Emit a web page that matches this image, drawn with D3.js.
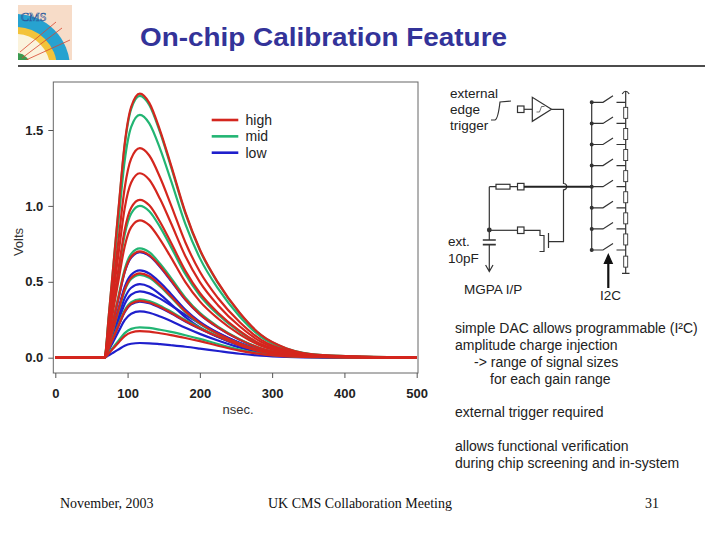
<!DOCTYPE html>
<html>
<head>
<meta charset="utf-8">
<script src="https://cdn.jsdelivr.net/npm/d3@7"></script>
<style>
  body { margin: 0; background: #fff; }
  svg  { display: block; font-family: "Liberation Sans", Arial, sans-serif; }
</style>
</head>
<body>
<svg id="slide" width="720" height="540"></svg>
<script>
"use strict";

// sample times of the pulses (nsec.)
const nsec = [0, 68, 74, 80, 88, 96, 105, 117, 130, 145, 160, 180, 200, 225, 255, 285, 320, 370, 500];

// pulse traces (Volts), one row per injected amplitude
const highTraces = [
  [0, 0, 0.278, 0.592, 1.009, 1.409, 1.653, 1.740, 1.679, 1.496, 1.270, 0.957, 0.713, 0.496, 0.296, 0.148, 0.061, 0.017, 0],
  [0, 0, 0.221, 0.469, 0.800, 1.118, 1.311, 1.380, 1.332, 1.187, 1.007, 0.759, 0.566, 0.393, 0.235, 0.117, 0.048, 0.014, 0],
  [0, 0, 0.194, 0.413, 0.705, 0.984, 1.154, 1.215, 1.172, 1.045, 0.887, 0.668, 0.498, 0.346, 0.207, 0.103, 0.043, 0.012, 0],
  [0, 0, 0.166, 0.354, 0.603, 0.842, 0.988, 1.040, 1.004, 0.894, 0.759, 0.572, 0.426, 0.296, 0.177, 0.088, 0.036, 0.010, 0],
  [0, 0, 0.145, 0.308, 0.525, 0.733, 0.860, 0.905, 0.873, 0.778, 0.661, 0.498, 0.371, 0.258, 0.154, 0.077, 0.032, 0.009, 0],
  [0, 0, 0.112, 0.238, 0.406, 0.567, 0.665, 0.700, 0.676, 0.602, 0.511, 0.385, 0.287, 0.200, 0.119, 0.060, 0.025, 0.007, 0],
  [0, 0, 0.089, 0.189, 0.322, 0.450, 0.527, 0.555, 0.536, 0.477, 0.405, 0.305, 0.228, 0.158, 0.094, 0.047, 0.019, 0.006, 0],
  [0, 0, 0.060, 0.128, 0.218, 0.304, 0.356, 0.375, 0.364, 0.334, 0.296, 0.242, 0.193, 0.139, 0.083, 0.039, 0.016, 0.005, 0],
  [0, 0, 0.028, 0.060, 0.102, 0.142, 0.166, 0.175, 0.172, 0.161, 0.149, 0.130, 0.109, 0.079, 0.047, 0.023, 0.009, 0.003, 0],
];
const midTraces = [
  [0, 0, 0.276, 0.587, 1.001, 1.397, 1.639, 1.725, 1.665, 1.484, 1.259, 0.949, 0.707, 0.492, 0.293, 0.147, 0.060, 0.017, 0],
  [0, 0, 0.256, 0.544, 0.928, 1.296, 1.520, 1.600, 1.544, 1.376, 1.168, 0.880, 0.656, 0.456, 0.272, 0.136, 0.056, 0.016, 0],
  [0, 0, 0.160, 0.340, 0.580, 0.810, 0.950, 1.000, 0.965, 0.860, 0.730, 0.550, 0.410, 0.285, 0.170, 0.085, 0.035, 0.010, 0],
  [0, 0, 0.115, 0.245, 0.418, 0.583, 0.684, 0.720, 0.695, 0.619, 0.526, 0.396, 0.295, 0.205, 0.122, 0.061, 0.025, 0.007, 0],
  [0, 0, 0.087, 0.185, 0.316, 0.441, 0.518, 0.545, 0.526, 0.469, 0.398, 0.300, 0.223, 0.155, 0.093, 0.046, 0.019, 0.005, 0],
  [0, 0, 0.062, 0.131, 0.223, 0.312, 0.366, 0.385, 0.373, 0.343, 0.304, 0.248, 0.198, 0.142, 0.085, 0.040, 0.016, 0.005, 0],
  [0, 0, 0.032, 0.068, 0.116, 0.162, 0.190, 0.200, 0.196, 0.184, 0.170, 0.148, 0.124, 0.090, 0.054, 0.026, 0.010, 0.003, 0],
];
const lowTraces = [
  [0, 0, 0.111, 0.236, 0.403, 0.563, 0.660, 0.695, 0.671, 0.598, 0.507, 0.382, 0.285, 0.198, 0.118, 0.059, 0.024, 0.007, 0],
  [0, 0, 0.092, 0.196, 0.334, 0.466, 0.546, 0.575, 0.555, 0.495, 0.420, 0.316, 0.236, 0.164, 0.098, 0.049, 0.020, 0.006, 0],
  [0, 0, 0.078, 0.165, 0.281, 0.393, 0.461, 0.485, 0.468, 0.417, 0.354, 0.267, 0.199, 0.138, 0.082, 0.041, 0.017, 0.005, 0],
  [0, 0, 0.070, 0.149, 0.253, 0.354, 0.415, 0.437, 0.424, 0.389, 0.345, 0.282, 0.225, 0.162, 0.096, 0.046, 0.018, 0.005, 0],
  [0, 0, 0.059, 0.126, 0.215, 0.300, 0.352, 0.370, 0.359, 0.329, 0.292, 0.239, 0.191, 0.137, 0.081, 0.039, 0.016, 0.004, 0],
  [0, 0, 0.049, 0.104, 0.177, 0.247, 0.290, 0.305, 0.296, 0.271, 0.241, 0.197, 0.157, 0.113, 0.067, 0.032, 0.013, 0.004, 0],
  [0, 0, 0.016, 0.033, 0.056, 0.079, 0.092, 0.097, 0.095, 0.089, 0.082, 0.072, 0.060, 0.044, 0.026, 0.013, 0.005, 0.001, 0],
];

// axis ticks and labels
const xTicks = [0, 100, 200, 300, 400, 500];
const yTicks = [0, 0.5, 1.0, 1.5];
const gains  = ['high', 'mid', 'low'];

// slide texts
const title  = 'On-chip Calibration Feature';
const notes  = [
  'simple DAC allows programmable (I\u00b2C)',
  'amplitude charge injection',
  '-> range of signal sizes',
  'for each gain range',
  'external trigger required',
  'allows functional verification',
  'during chip screening and in-system',
];
const footer = ['November, 2003', 'UK CMS Collaboration Meeting', '31'];

const svg = d3.select('#slide');

/* ---------------- header ---------------- */

// crude CMS logo
const defs = svg.append('defs');
defs.append('clipPath').attr('id', 'logoClip')
    .append('rect').attr('x', 18).attr('y', 5).attr('width', 54).attr('height', 55);

const logo = svg.append('g').attr('clip-path', 'url(#logoClip)');
logo.append('rect').attr('x', 18).attr('y', 5).attr('width', 54).attr('height', 55).attr('fill', '#f7dcc8');
[ [54, '#27a2d0'], [41, '#f3c33a'], [34, '#fbf3dc'], [15, '#3b9a4f'] ]
  .forEach( ([r, c]) => logo.append('circle').attr('cx', 16).attr('cy', 68).attr('r', r).attr('fill', c) );
[ [22, 58, 62, 28], [26, 60, 70, 40], [20, 52, 56, 22] ]
  .forEach( ([a, b, c, d]) => logo.append('line')
    .attr('x1', a).attr('y1', b).attr('x2', c).attr('y2', d)
    .attr('stroke', '#d8452e').attr('stroke-width', 0.8) );
logo.append('text')
    .attr('x', 21).attr('y', 21)
    .style('font', '12px "Liberation Serif", serif')
    .style('fill', 'none').style('stroke', '#2b5a9c').style('stroke-width', 0.6)
    .text('CMS');

svg.append('text')
    .attr('x', 323.5).attr('y', 46)
    .attr('text-anchor', 'middle')
    .attr('textLength', 367).attr('lengthAdjust', 'spacingAndGlyphs')
    .style('font-size', '26px').style('font-weight', 'bold').style('fill', '#333399')
    .text(title);

svg.append('line')
    .attr('x1', 18).attr('x2', 705).attr('y1', 66).attr('y2', 66)
    .attr('stroke', '#111').attr('stroke-width', 1.3);

/* ---------------- scope plot ---------------- */

const x = d3.scaleLinear().domain([0, 500]).range([55.3, 416.7]);
const y = d3.scaleLinear().domain([0, 1.5]).range([357.7, 130]);

// frame of the plot area
svg.append('rect')
    .attr('x', 53.3).attr('y', 82).attr('width', 364.7).attr('height', 291)
    .attr('fill', 'none').attr('stroke', '#666').attr('stroke-width', 1);

const tickStyle = sel => {
  sel.select('.domain').remove();
  sel.selectAll('line').attr('stroke', '#555');
  sel.selectAll('text')
     .attr('fill', '#222')
     .style('font', 'bold 13px "Liberation Sans", Arial, sans-serif');
};

svg.append('g')
    .attr('transform', 'translate(53.3,0)')
    .call( d3.axisLeft(y).tickValues(yTicks).tickFormat(d3.format('.1f')).tickSize(5).tickPadding(5) )
    .call(tickStyle);

svg.append('g')
    .attr('transform', 'translate(0,373)')
    .call( d3.axisBottom(x).tickValues(xTicks).tickFormat(d3.format('d')).tickSize(5).tickPadding(11) )
    .call(tickStyle);

svg.append('text')
    .attr('x', 238).attr('y', 414)
    .attr('text-anchor', 'middle')
    .style('font-size', '13px').style('fill', '#333')
    .text('nsec.');

svg.append('text')
    .attr('transform', 'translate(23,242) rotate(-90)')
    .attr('text-anchor', 'middle')
    .style('font-size', '13px').style('fill', '#333')
    .text('Volts');

// pulses
const colors = { high: '#d4261e', mid: '#22b573', low: '#1f1fcc' };
const pulse  = d3.line()
                 .x( (d, i) => x(nsec[i]) )
                 .y( d => y(d) )
                 .curve(d3.curveMonotoneX);

// blue first, red on top, as in the scope picture
[ ['low', lowTraces], ['mid', midTraces], ['high', highTraces] ].forEach( ([gain, traces]) => {
  svg.append('g')
       .attr('class', 'traces ' + gain)
     .selectAll('path')
       .data(traces)
     .enter().append('path')
       .attr('d', pulse)
       .attr('fill', 'none')
       .attr('stroke', colors[gain])
       .attr('stroke-width', 2.2)
       .attr('stroke-linejoin', 'round');
});

// legend
const legendY = d3.scalePoint().domain(gains).range([120, 152.7]);
const legend  = svg.append('g').attr('class', 'legend')
                  .selectAll('g')
                    .data(gains)
                  .enter().append('g')
                    .attr('transform', d => `translate(0,${legendY(d)})`);
legend.append('line')
      .attr('x1', 211.7).attr('x2', 238.3)
      .attr('stroke', d => colors[d]).attr('stroke-width', 2.6);
legend.append('text')
      .attr('x', 245.5).attr('dy', '0.36em')
      .style('font-size', '14px').style('fill', '#222')
      .text(d => d);

/* ---------------- calibration circuit ---------------- */

const circ = svg.append('g')
                .attr('class', 'circuit')
                .attr('fill', 'none').attr('stroke', '#333').attr('stroke-width', 1.2);

const label = (t, px, py) => svg.append('text')
    .attr('x', px).attr('y', py)
    .style('font-size', '13.5px').style('fill', '#222')
    .text(t);

label('external', 450, 98);
label('edge', 450, 114);
label('trigger', 450, 130);
label('ext.', 448, 246);
label('10pF', 448, 263);
label('MGPA I/P', 464, 294);
label('I2C', 600, 300);

// edge trigger input and comparator
circ.append('path').attr('d', 'M491,120 L495,120 Q498,119 500,102 L511,101');
circ.append('rect').attr('x', 517.5).attr('y', 106).attr('width', 6.5).attr('height', 6.5).attr('fill', '#fff');
circ.append('path').attr('d', 'M524,109.3 H532.3');
circ.append('path').attr('d', 'M532.3,97.3 L532.3,121.3 L551.5,109.3 Z').attr('fill', '#fff');
circ.append('path').attr('d', 'M536.5,112 H539.5 L541.5,106.5 H544.5').attr('stroke-width', 0.7);
circ.append('path').attr('d', 'M551.5,109.3 H563.5 V183.5 A3.2,3.2 0 0 1 563.5,189.9 V241.7 H549');

// charge injection path
circ.append('path').attr('d', 'M489.3,186.7 H496 M510,186.7 H517.5');
circ.append('rect').attr('x', 496).attr('y', 184.3).attr('width', 14).attr('height', 4.8).attr('fill', '#fff');
circ.append('rect').attr('x', 517.5).attr('y', 183.4).attr('width', 6.5).attr('height', 6.5).attr('fill', '#fff');
circ.append('path').attr('d', 'M524,186.7 H591.7').attr('stroke-width', 2).attr('stroke', '#222');
circ.append('path').attr('d', 'M489.3,186.7 V240');
circ.append('circle').attr('cx', 489.3).attr('cy', 230).attr('r', 1.8).attr('fill', '#333');
circ.append('path').attr('d', 'M482.8,240 H495.8 M482.8,244.6 H495.8').attr('stroke-width', 1.6);
circ.append('path').attr('d', 'M489.3,244.6 V271 M485.6,265 L489.3,271.5 L493,265');

// external capacitor switch (transistor)
circ.append('path').attr('d', 'M489.3,230.3 H517.5');
circ.append('rect').attr('x', 517.5).attr('y', 227).attr('width', 6.5).attr('height', 6.5).attr('fill', '#fff');
circ.append('path').attr('d', 'M524,230.3 H540 V235.5 H544 M544,235 V247 M548.5,233 V248 M544,247 V251.5 H539.5');

// switch ladder and divider
const taps = d3.range(8).map( i => 102.3 + i * 21.1 );
circ.append('path').attr('d', `M591.7,${taps[0]} V${taps[7]}`);
circ.append('path').attr('d', 'M625.7,91.7 V273.3 M622,273.3 H629.5 M622.2,94 Q625.7,88.5 629.2,94');
taps.forEach( (ty, i) => {
  circ.append('path').attr('d', `M591.7,${ty} H603 L613,${ty - 6.5} M616.5,${ty} H625.7`);
  circ.append('circle').attr('cx', 591.7).attr('cy', ty).attr('r', 1.4).attr('fill', '#333');
  const next = i < 7 ? taps[i + 1] : 273.3;
  circ.append('rect')
      .attr('x', 623.7).attr('y', (ty + next) / 2 - 5.5).attr('width', 4).attr('height', 11)
      .attr('fill', '#fff').attr('stroke-width', 0.9);
});

// I2C control arrow
circ.append('path').attr('d', 'M608.3,288 V262').attr('stroke', '#111').attr('stroke-width', 2.2);
circ.append('path').attr('d', 'M604.3,263.5 L608.3,254.5 L612.3,263.5 Z').attr('fill', '#111').attr('stroke', '#111');

/* ---------------- notes and footer ---------------- */

const noteX = [455, 455, 474, 490, 455, 455, 455];
const noteY = [333, 350, 367, 384, 417, 451, 468];
svg.append('g')
     .attr('class', 'notes')
   .selectAll('text')
     .data(notes)
   .enter().append('text')
     .attr('x', (d, i) => noteX[i])
     .attr('y', (d, i) => noteY[i])
     .style('font-size', '14px').style('fill', '#222')
     .text(d => d);

const footX = [60, 268, 645];
svg.append('g')
     .attr('class', 'footer')
   .selectAll('text')
     .data(footer)
   .enter().append('text')
     .attr('x', (d, i) => footX[i])
     .attr('y', 508)
     .style('font', '14px "Liberation Serif", "Times New Roman", serif')
     .style('fill', '#111')
     .text(d => d);
</script>
</body>
</html>
